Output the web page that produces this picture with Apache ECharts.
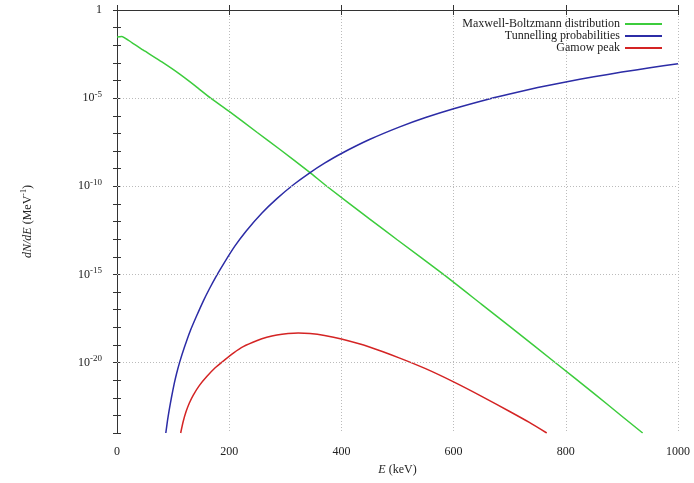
<!DOCTYPE html>
<html>
<head>
<meta charset="utf-8">
<script src="https://cdn.jsdelivr.net/npm/echarts@6/dist/echarts.min.js"></script>
<style>html,body{margin:0;padding:0;background:#fff}#c{width:694px;height:483px}</style>
</head>
<body>
<div id="c"></div>
<script>
// Energies (keV) and log10 of dN/dE (MeV^-1)
var mbE   = [0, 8, 27, 50, 80, 110, 140, 167, 200, 250, 290, 343, 374, 450, 500, 582, 650, 700, 781, 850, 900, 937];
var mbLog = [-1.53, -1.5, -1.86, -2.34, -2.95, -3.6, -4.32, -5.0, -5.75, -6.95, -7.9, -9.2, -10.0, -11.85, -13.05, -15.0, -16.7, -17.95, -20.0, -21.75, -23.05, -24.0];

var tuE   = [87, 90, 93, 97, 102, 106, 112, 120, 130, 142, 154, 165, 176, 190, 210, 230, 258, 285, 315, 343, 370, 400, 450, 504, 550, 600, 665, 700, 750, 800, 850, 900, 950, 1000];
var tuLog = [-24.0, -23.3, -22.7, -22.0, -21.2, -20.65, -19.95, -19.15, -18.25, -17.35, -16.5, -15.8, -15.15, -14.4, -13.4, -12.55, -11.53, -10.7, -9.9, -9.25, -8.69, -8.14, -7.35, -6.63, -6.1, -5.6, -5.03, -4.76, -4.4, -4.08, -3.79, -3.52, -3.28, -3.05];

var gaE   = [113.5, 118, 123, 129, 136, 147, 160, 175, 192, 208, 225, 250, 267, 285, 305, 323, 344, 370, 400, 450, 504, 550, 600, 650, 700, 735, 766];
var gaLog = [-24.0, -23.35, -22.8, -22.3, -21.85, -21.3, -20.8, -20.3, -19.85, -19.45, -19.1, -18.75, -18.57, -18.44, -18.36, -18.33, -18.36, -18.47, -18.67, -19.12, -19.75, -20.35, -21.1, -21.92, -22.78, -23.4, -24.0];

var xTicks = [0, 200, 400, 600, 800, 1000];
var yGridExps = [-5, -10, -15, -20];
var seriesNames = ['Maxwell-Boltzmann distribution', 'Tunnelling probabilities', 'Gamow peak'];
var seriesColors = ['#3ccc3c', '#2c2ca6', '#d42424'];

function pairs(xs, ys) { return xs.map(function (x, i) { return [x, ys[i]]; }); }

var FONT = 'Liberation Serif';
var chart = echarts.init(document.getElementById('c'));
var axisLine = { show: true, lineStyle: { color: '#333', width: 1 } };
var tickX = { show: true, inside: false, length: 5, lineStyle: { color: '#333' } };
var tickY = { show: true, inside: false, length: 4, lineStyle: { color: '#333' } };

chart.setOption({
  animation: false,
  backgroundColor: '#fff',
  grid: { left: 117, right: 16, top: 10, bottom: 50 },
  legend: {
    orient: 'vertical', right: 32, top: 18, align: 'right',
    itemWidth: 37, itemHeight: 2, itemGap: 0, padding: 0,
    textStyle: { fontFamily: FONT, fontSize: 12, color: '#222', lineHeight: 12 },
    data: seriesNames.map(function (n) { return { name: n, icon: 'rect' }; })
  },
  xAxis: [{
    type: 'value', min: 0, max: 1000, interval: 200,
    axisLine: axisLine, axisTick: tickX,
    axisLabel: { margin: 13, fontFamily: FONT, fontSize: 12, color: '#222',
      formatter: function (v) { return xTicks.indexOf(v) >= 0 ? String(v) : ''; } },
    splitLine: { show: true, lineStyle: { color: '#bbb', type: [1, 2], width: 1 } },
    name: '{i|E} (keV)', nameLocation: 'middle', nameGap: 31,
    nameTextStyle: { fontFamily: FONT, fontSize: 12, color: '#222',
      rich: { i: { fontFamily: FONT, fontStyle: 'italic', fontSize: 12, color: '#222' } } }
  }, {
    type: 'value', position: 'top', min: 0, max: 1000, interval: 200,
    axisLine: axisLine, axisTick: tickX,
    axisLabel: { show: false }, splitLine: { show: false }
  }],
  yAxis: [{
    type: 'value', min: -24, max: 0, interval: 1,
    axisLine: axisLine, axisTick: tickY,
    axisLabel: { margin: 15, fontFamily: FONT, fontSize: 12, color: '#222',
      formatter: function (v) {
        if (v === 0) return '1';
        if (v % 5 === 0) return '10{sup|' + v + '}';
        return '';
      },
      rich: { sup: { fontFamily: FONT, fontSize: 9, color: '#222', padding: [0, 0, 7, 0] } }
    },
    splitLine: { show: false },
    name: '{i|dN/dE} (MeV{sup|-1})', nameLocation: 'middle', nameGap: 82, nameRotate: 90,
    nameTextStyle: { fontFamily: FONT, fontSize: 12, color: '#222',
      rich: { i: { fontFamily: FONT, fontStyle: 'italic', fontSize: 12, color: '#222' },
              sup: { fontFamily: FONT, fontSize: 8, color: '#222', padding: [0, 0, 7, 0] } } }
  }, {
    type: 'value', position: 'right', min: -24, max: 0, interval: 1,
    axisLine: axisLine, axisTick: tickY,
    axisLabel: { show: false }, splitLine: { show: false }
  }],
  series: [{
    name: seriesNames[0], type: 'line', data: pairs(mbE, mbLog), symbol: 'none', smooth: 0.2,
    color: seriesColors[0], lineStyle: { width: 1.5, color: seriesColors[0] }, clip: true, z: 3,
    markLine: {
      silent: true, symbol: 'none', label: { show: false },
      lineStyle: { color: '#bbb', type: [1, 2], width: 1 },
      data: yGridExps.map(function (e) { return { yAxis: e }; })
    }
  }, {
    name: seriesNames[1], type: 'line', data: pairs(tuE, tuLog), symbol: 'none', smooth: 0.2,
    color: seriesColors[1], lineStyle: { width: 1.5, color: seriesColors[1] }, clip: true, z: 3
  }, {
    name: seriesNames[2], type: 'line', data: pairs(gaE, gaLog), symbol: 'none', smooth: 0.2,
    color: seriesColors[2], lineStyle: { width: 1.5, color: seriesColors[2] }, clip: true, z: 3
  }]
});
</script>
</body>
</html>
